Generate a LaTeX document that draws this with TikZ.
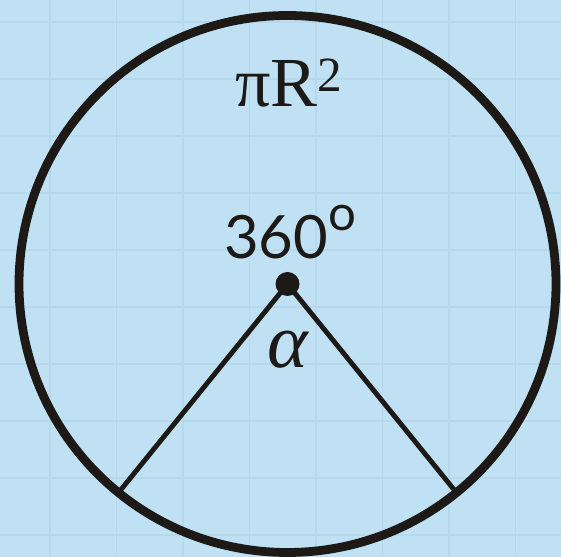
\documentclass[tikz,border=0pt]{standalone}
\usepackage{fontspec}
\setmainfont{Liberation Serif}
\newfontfamily\degfont{Lato}
\usetikzlibrary{positioning}
\definecolor{paper}{RGB}{192,225,243}
\definecolor{gridline}{RGB}{182,216,237}
\definecolor{ink}{RGB}{28,25,23}
\tikzset{
  rim/.style={draw=ink,line width=5pt},
  spoke/.style={draw=ink,line width=2.8pt},
  label/.style={inner sep=0pt,text=ink}
}

\begin{document}
\begin{tikzpicture}
  \fill[paper](0,0)rectangle(11.22,11.14);
  \useasboundingbox(0,0)rectangle(11.22,11.14);
  \foreach \x in {0,...,7}
    \draw[gridline,line width=0.9pt](1.0+1.33*\x,0)--(1.0+1.33*\x,11.14);
  \foreach \y in {0,...,9}
    \draw[gridline,line width=0.9pt](0,10.7-1.14*\y)--(11.22,10.7-1.14*\y);
  \coordinate (O) at (5.75,5.46);
  \path (O) ++(231:5.37) coordinate (A);
  \path (O) ++(309:5.37) coordinate (B);
  \draw[rim](O) circle(5.37);
  \draw[spoke](A)--(O)--(B);
  \fill[ink](O) circle(0.24);
  \node[label,anchor=base,font=\fontsize{40}{44}\selectfont] (area) at (5.78,9.0){πR\textsuperscript{2}};
  \node[label,above=0.5cm of O,xshift=0.05cm,font=\degfont\fontsize{34}{38}\selectfont] (full){360\raisebox{16pt}{\fontsize{28}{28}\selectfont o}};
  \node[label,below=0.94cm of O,font=\itshape\fontsize{44}{48}\selectfont] (alpha){α};
\end{tikzpicture}
\end{document}
